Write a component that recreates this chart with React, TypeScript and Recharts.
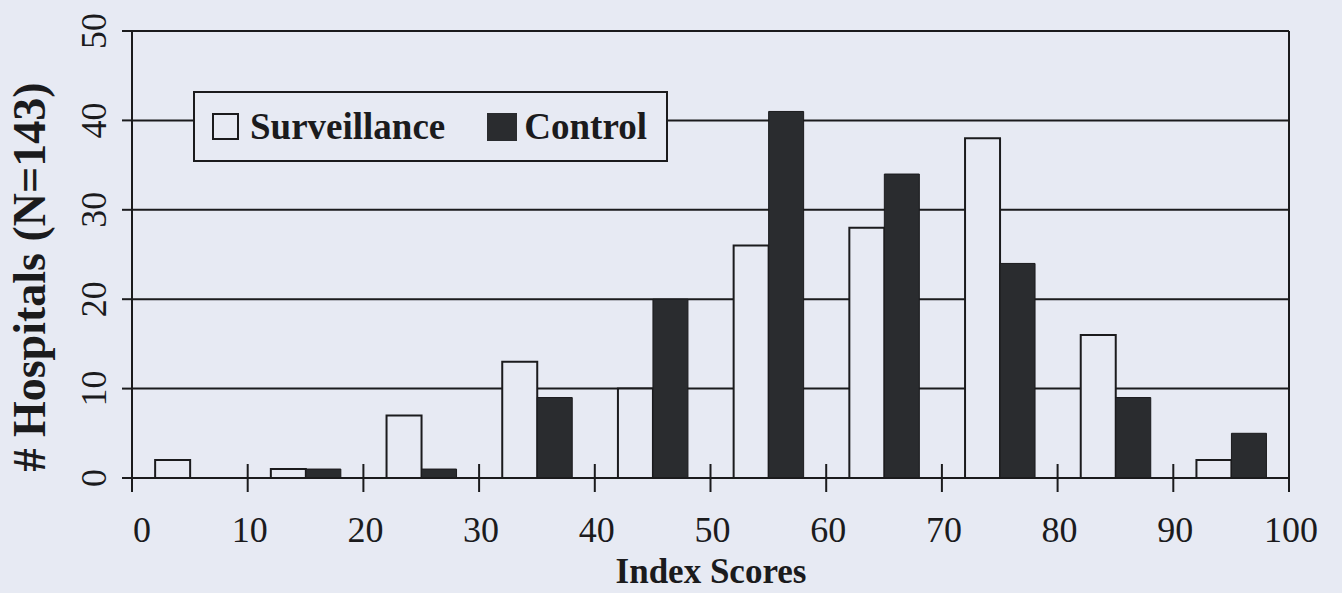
import React from 'react';
import { BarChart, Bar, XAxis, YAxis, CartesianGrid, Legend, ReferenceLine } from 'recharts';

// index score bins (bin centres) and hospital counts per bin
const scoreBins = [5, 15, 25, 35, 45, 55, 65, 75, 85, 95];
const surveillance = [2, 1, 7, 13, 10, 26, 28, 38, 16, 2];
const control = [0, 1, 1, 9, 20, 41, 34, 24, 9, 5];
const xTicks = [0, 10, 20, 30, 40, 50, 60, 70, 80, 90, 100];
const yTicks = [0, 10, 20, 30, 40, 50];

const data = scoreBins.map((bin, i) => ({
  bin,
  surveillance: surveillance[i],
  control: control[i],
}));

const PAPER = '#e7eaf3';
const INK = '#1b1b1d';
const DARK = '#2a2c2f';
const SERIF = '"Liberation Serif", "Times New Roman", serif';

const XTick = (props: any) => {
  const { x, y, payload } = props;
  const dx = payload.value === 0 ? 10 : 2;
  return (
    <g>
      <line x1={x} x2={x} y1={y - 14} y2={y + 14} stroke={INK} strokeWidth={2} />
      <text x={x + dx} y={y + 64} textAnchor="middle" fontFamily={SERIF} fontSize={36} fill={INK}>
        {payload.value}
      </text>
    </g>
  );
};

const YTick = (props: any) => {
  const { y, payload } = props;
  const cx = 106;
  return (
    <text
      x={cx}
      y={y}
      transform={`rotate(-90 ${cx} ${y})`}
      textAnchor="middle"
      fontFamily={SERIF}
      fontSize={36}
      fill={INK}
    >
      {payload.value}
    </text>
  );
};

const YTitle = () => (
  <text
    x={45}
    y={277}
    transform="rotate(-90 45 277)"
    textAnchor="middle"
    fontFamily={SERIF}
    fontWeight="bold"
    fontSize={46}
    fill={INK}
  >
    # Hospitals (N=143)
  </text>
);

const XTitle = () => (
  <text x={711} y={583} textAnchor="middle" fontFamily={SERIF} fontWeight="bold" fontSize={35} fill={INK}>
    Index Scores
  </text>
);

const LegendBox = () => (
  <div
    style={{
      boxSizing: 'border-box',
      width: 475,
      height: 71,
      border: `2px solid ${INK}`,
      background: PAPER,
      display: 'flex',
      alignItems: 'center',
      fontFamily: SERIF,
      fontWeight: 'bold',
      fontSize: 37,
      color: INK,
      lineHeight: 1,
    }}
  >
    <span
      style={{ boxSizing: 'border-box', width: 27, height: 27, border: `2px solid ${INK}`, marginLeft: 17, background: PAPER }}
    />
    <span style={{ marginLeft: 11 }}>Surveillance</span>
    <span style={{ width: 30, height: 28, background: DARK, marginLeft: 42 }} />
    <span style={{ marginLeft: 7 }}>Control</span>
  </div>
);

export default function App() {
  return (
    <div
      style={{
        position: 'fixed',
        left: 0,
        top: 0,
        width: 1342,
        height: 593,
        background: PAPER,
        overflow: 'hidden',
      }}
    >
      <BarChart
        width={1342}
        height={593}
        data={data}
        margin={{ top: 31, right: 53, bottom: 0, left: 0 }}
        barCategoryGap="20%"
        barGap={0}
      >
        <CartesianGrid vertical={false} stroke={INK} strokeWidth={2} />
        <XAxis
          dataKey="bin"
          type="number"
          domain={[0, 100]}
          ticks={xTicks}
          interval={0}
          height={115}
          axisLine={{ stroke: INK, strokeWidth: 2 }}
          tickLine={false}
          tickSize={0}
          tickMargin={0}
          tick={<XTick />}
          label={() => <XTitle />}
        />
        <YAxis
          domain={[0, 50]}
          ticks={yTicks}
          interval={0}
          width={132}
          axisLine={{ stroke: INK, strokeWidth: 2 }}
          tickLine={{ stroke: INK, strokeWidth: 2 }}
          tickSize={10}
          tick={<YTick />}
          label={() => <YTitle />}
        />
        <ReferenceLine x={100} stroke={INK} strokeWidth={2} />
        <Bar dataKey="surveillance" fill={PAPER} stroke={INK} strokeWidth={2} isAnimationActive={false} />
        <Bar dataKey="control" fill={DARK} stroke={INK} strokeWidth={1} isAnimationActive={false} />
        <Legend
          layout="horizontal"
          verticalAlign="middle"
          align="center"
          content={() => <LegendBox />}
          wrapperStyle={{ left: 193, top: 91, width: 475, height: 71 }}
        />
      </BarChart>
    </div>
  );
}
